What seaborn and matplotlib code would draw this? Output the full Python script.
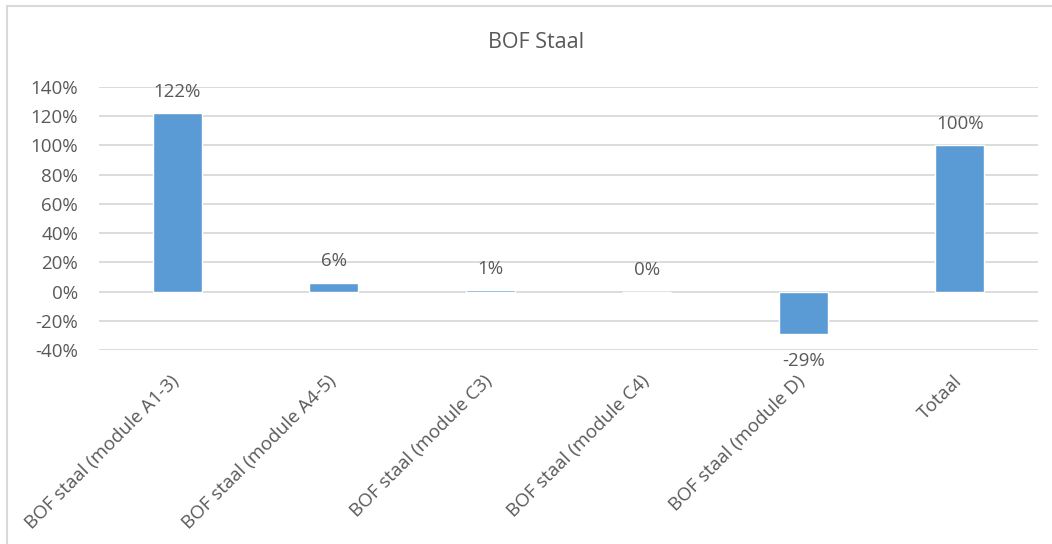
import matplotlib
matplotlib.use("Agg")
import matplotlib.pyplot as plt
from matplotlib.patches import Rectangle
from matplotlib.ticker import FuncFormatter, MultipleLocator
from matplotlib.transforms import ScaledTranslation
import pandas as pd
import seaborn as sns

# Contribution per module, as a share of the total
categories = [
    "BOF staal (module A1-3)",
    "BOF staal (module A4-5)",
    "BOF staal (module C3)",
    "BOF staal (module C4)",
    "BOF staal (module D)",
    "Totaal",
]
values = [1.22, 0.06, 0.01, 0.00, -0.29, 1.00]
value_labels = ["122%", "6%", "1%", "0%", "-29%", "100%"]
title = "BOF Staal"

BAR = "#5B9BD5"
TEXT = "#595959"
GRID = "#D9D9D9"

sns.set_theme(style="white")
plt.rcParams["font.family"] = ["Open Sans", "DejaVu Sans"]

df = pd.DataFrame({"categorie": categories, "aandeel": values})

fig = plt.figure(figsize=(10.52, 5.44), dpi=100)
ax = fig.add_axes([0.0941, 0.3566, 0.8926, 0.4834])

sns.barplot(data=df, x="categorie", y="aandeel", color=BAR, width=0.315,
            saturation=1, ax=ax, zorder=3)

ax.set_ylim(-0.4, 1.4)
ax.yaxis.set_major_locator(MultipleLocator(0.2))
ax.yaxis.set_major_formatter(FuncFormatter(lambda v, _: f"{v * 100:.0f}%"))
ax.grid(axis="y", color=GRID, linewidth=1.3, zorder=0)
ax.grid(axis="x", visible=False)
for s in ax.spines.values():
    s.set_visible(False)
ax.set_xlabel("")
ax.set_ylabel("")
ax.tick_params(axis="y", length=0, pad=15, labelsize=13.5, labelcolor=TEXT)
ax.tick_params(axis="x", length=0, pad=16, labelsize=13.5, labelcolor=TEXT)
ax.set_xticks(range(len(categories)))
ax.set_xticklabels(categories, rotation=45, ha="right", va="top",
                   rotation_mode="anchor")
shift = ScaledTranslation(-7 / 100, 0, fig.dpi_scale_trans)
for lbl in ax.get_xticklabels():
    lbl.set_transform(lbl.get_transform() + shift)

# Value labels outside the bar ends
for i, (v, lab) in enumerate(zip(values, value_labels)):
    if v >= 0:
        ax.annotate(lab, (i, v), xytext=(0, 9), textcoords="offset points",
                    ha="center", va="bottom", fontsize=13.5, color=TEXT)
    else:
        ax.annotate(lab, (i, v), xytext=(0, -13), textcoords="offset points",
                    ha="center", va="top", fontsize=13.5, color=TEXT)

fig.text(536 / 1052, 1 - 42 / 544, title, ha="center", va="center",
         fontsize=15.5, color=TEXT)

# Chart-area border
fig.patches.append(Rectangle((7 / 1052, -0.05), 1.2, 1 - 6 / 544 + 0.05,
                             transform=fig.transFigure, fill=False,
                             edgecolor=GRID, linewidth=1.5))

fig.savefig("out.png", dpi=100)
